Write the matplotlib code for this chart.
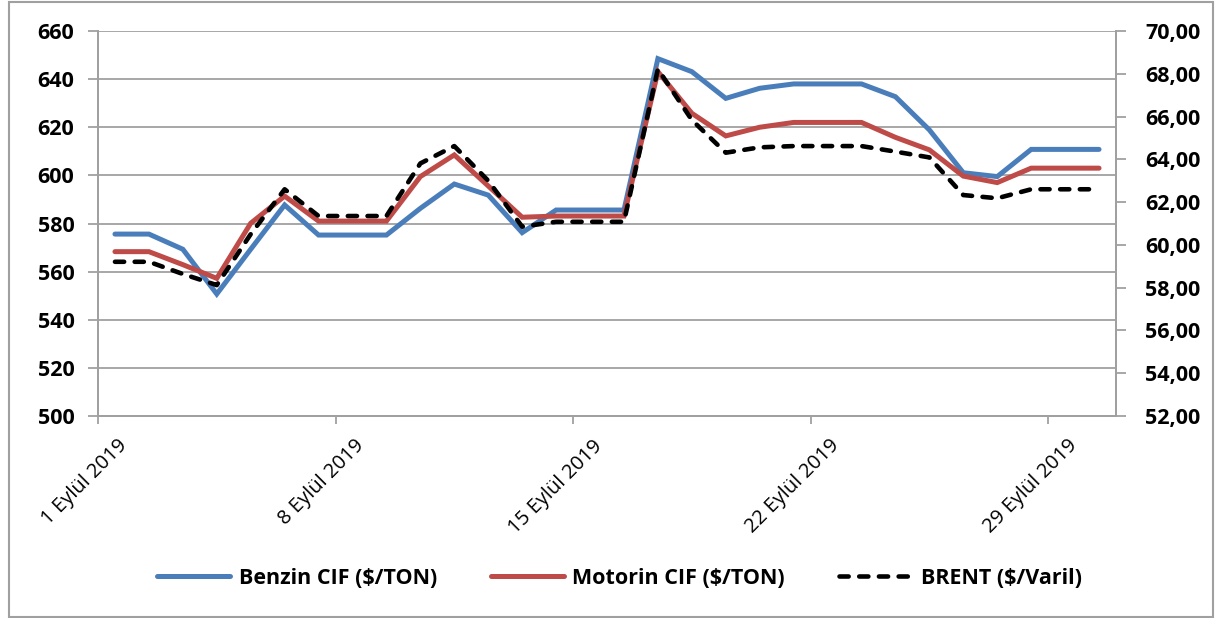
import numpy as np
import matplotlib
matplotlib.use("Agg")
import matplotlib.pyplot as plt
import matplotlib.transforms as mtransforms
from matplotlib.ticker import FuncFormatter, MultipleLocator, FixedLocator, NullFormatter
from matplotlib.patches import Rectangle

plt.rcParams['font.family'] = ['Open Sans', 'DejaVu Sans']

# Eylül 2019, günlük (1..30)
days = np.arange(30)
tick_pos = [-0.5, 6.5, 13.5, 20.5, 27.5]
tick_labels = ["1 Eylül 2019", "8 Eylül 2019", "15 Eylül 2019", "22 Eylül 2019", "29 Eylül 2019"]

benzin = [575.6, 575.6, 569.3, 550.7, 569.3, 587.7, 575.2, 575.2, 575.2, 586.3,
          596.4, 591.8, 576.2, 585.6, 585.6, 585.6, 648.5, 643.1, 632.0, 636.2,
          638.0, 638.0, 638.0, 632.7, 618.9, 601.1, 599.5, 610.8, 610.8, 610.8]
motorin = [568.3, 568.3, 562.9, 557.2, 580.1, 591.4, 581.0, 581.0, 581.0, 599.5,
           608.5, 595.6, 582.6, 583.1, 583.1, 583.1, 643.1, 625.8, 616.4, 620.0,
           622.0, 622.0, 622.0, 615.8, 610.6, 599.7, 597.0, 603.0, 603.0, 603.0]
brent = [59.21, 59.21, 58.64, 58.12, 60.5, 62.6, 61.35, 61.35, 61.35, 63.81,
         64.62, 63.0, 60.85, 61.08, 61.08, 61.08, 68.22, 65.84, 64.31, 64.56,
         64.62, 64.62, 64.62, 64.36, 64.09, 62.33, 62.18, 62.6, 62.6, 62.6]

grey = "#a0a0a0"
blue = "#4a7ebb"
red = "#be4b48"

fig = plt.figure(figsize=(12.19, 6.18), dpi=100)
ax = fig.add_axes([98 / 1219, 1 - 416 / 618, (1116 - 98) / 1219, (416 - 31) / 618])
ax2 = ax.twinx()

# dış çerçeve
fig.patches.append(Rectangle((8.5 / 1219, 1.5 / 618), (1213 - 8.5) / 1219, (616.5 - 1.5) / 618,
                             transform=fig.transFigure, fill=False, edgecolor=grey, lw=1.5))

l1, = ax.plot(days, benzin, color=blue, lw=3.6, solid_capstyle='round', solid_joinstyle='miter',
              label="Benzin CIF ($/TON)", zorder=3)
l2, = ax.plot(days, motorin, color=red, lw=3.6, solid_capstyle='round', solid_joinstyle='miter',
              label="Motorin CIF ($/TON)", zorder=4)
l3, = ax2.plot(days, brent, color="black", lw=3.3, linestyle=(0, (2.0, 2.3)),
               dash_capstyle='round', label="BRENT ($/Varil)", zorder=5)

ax.set_xlim(-0.5, 29.5)
ax.set_ylim(500, 660)
ax2.set_ylim(52, 70)
ax.yaxis.set_major_locator(MultipleLocator(20))
ax2.yaxis.set_major_locator(MultipleLocator(2))
ax2.yaxis.set_major_formatter(FuncFormatter(lambda v, p: f"{v:.2f}".replace(".", ",")))

ax.xaxis.set_major_locator(FixedLocator(tick_pos))
ax.xaxis.set_major_formatter(NullFormatter())
# Excel gibi: etiketler tikin sağ altında, 45 derece
shift = mtransforms.ScaledTranslation(26 / 100, -27 / 100, fig.dpi_scale_trans)
for xp, lab in zip(tick_pos, tick_labels):
    ax.text(xp, 0, lab, transform=ax.get_xaxis_transform() + shift, rotation=45,
            ha='right', va='center', rotation_mode='anchor', fontsize=14.5)

ax.grid(axis='y', color=grey, lw=1.3)
ax.set_axisbelow(True)
for a in (ax, ax2):
    for s in a.spines.values():
        s.set_color(grey)
        s.set_linewidth(1.3)
    a.spines['top'].set_visible(False)

ax.tick_params(axis='y', direction='out', length=7, width=1.3, color=grey, labelsize=15.5, pad=10)
ax.tick_params(axis='x', direction='out', length=6, width=1.3, color=grey)
ax2.tick_params(axis='y', direction='out', length=7, width=1.3, color=grey, labelsize=15.5, pad=14)
for t in ax.get_yticklabels() + ax2.get_yticklabels():
    t.set_fontweight('bold')

leg = fig.legend(handles=[l1, l2, l3], loc='center', bbox_to_anchor=(0.508, 1 - 578 / 618),
                 ncol=3, frameon=False, handlelength=3.4, handletextpad=0.4, columnspacing=2.5,
                 prop={'weight': 'bold', 'size': 15.5})

fig.savefig("out.png", dpi=100)
